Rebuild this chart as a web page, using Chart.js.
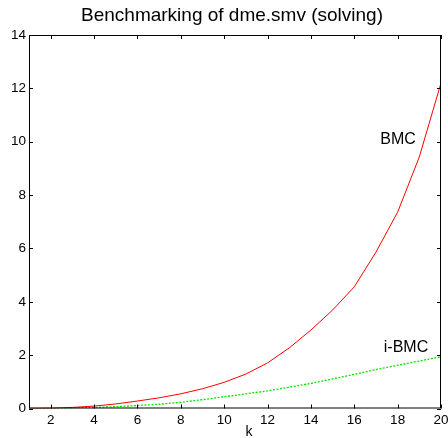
<!DOCTYPE html>
<html>
<head>
<meta charset="utf-8">
<title>dme.smv solving</title>
<script src="https://cdn.jsdelivr.net/npm/chart.js@4/dist/chart.umd.min.js"></script>
<style>
	body { margin: 0; background: #fff; }
	canvas { display: block; }
</style>
</head>
<body>
<canvas id="benchChart" width="448" height="438"></canvas>
<script>
var k = [1, 2, 3, 4, 5, 6, 7, 8, 9, 10, 11, 12, 13, 14, 15, 16, 17, 18, 19, 20];
var bmc = [0, 0.01, 0.04, 0.09, 0.17, 0.28, 0.4, 0.55, 0.74, 0.98, 1.29, 1.71, 2.27, 2.94, 3.69, 4.56, 5.86, 7.36, 9.43, 12.2];
var ibmc = [0, 0.005, 0.02, 0.04, 0.07, 0.11, 0.16, 0.23, 0.33, 0.44, 0.55, 0.66, 0.8, 0.94, 1.11, 1.28, 1.46, 1.62, 1.78, 1.94];
var xTicks = [2, 4, 6, 8, 10, 12, 14, 16, 18, 20];
var yTicks = [0, 2, 4, 6, 8, 10, 12, 14];

var font = "'Liberation Sans', Arial, Helvetica, sans-serif";

function points(ys) {
	var out = [];
	for (var i in k) {
		out.push({x: k[i], y: ys[i]});
	}
	return out;
}

// box around the plot with small inward ticks on every side, plus all the text
var boxPlugin = {
	id: 'box',
	afterDraw: function(chart) {
		var ctx = chart.ctx;
		var a = chart.chartArea;
		var xs = chart.scales.x;
		var ys = chart.scales.y;
		var len = 4;
		ctx.save();
		ctx.strokeStyle = '#000';
		ctx.lineWidth = 1;
		ctx.strokeRect(a.left + 0.5, a.top + 0.5, a.right - a.left - 1, a.bottom - a.top - 1);
		ctx.beginPath();
		xTicks.forEach(function(v) {
			var px = Math.round(xs.getPixelForValue(v)) + 0.5;
			ctx.moveTo(px, a.bottom); ctx.lineTo(px, a.bottom - len);
			ctx.moveTo(px, a.top); ctx.lineTo(px, a.top + len);
		});
		yTicks.forEach(function(v) {
			var py = Math.round(ys.getPixelForValue(v)) + 0.5;
			ctx.moveTo(a.left, py); ctx.lineTo(a.left + len, py);
			ctx.moveTo(a.right, py); ctx.lineTo(a.right - len, py);
		});
		ctx.stroke();

		ctx.fillStyle = '#000';
		ctx.textBaseline = 'middle';
		ctx.font = '13.5px ' + font;
		ctx.textAlign = 'right';
		yTicks.forEach(function(v) {
			ctx.fillText(String(v), 26, ys.getPixelForValue(v));
		});
		ctx.textAlign = 'center';
		xTicks.forEach(function(v) {
			ctx.fillText(String(v), xs.getPixelForValue(v), 420);
		});

		ctx.font = '19px ' + font;
		ctx.fillText('Benchmarking of dme.smv (solving)', 232, 16);
		ctx.font = '14px ' + font;
		ctx.fillText('k', 249, 432);
		ctx.font = '16px ' + font;
		ctx.fillText('BMC', 398, 140);
		ctx.fillText('i-BMC', 406, 348);
		ctx.restore();
	}
};

var ctx = document.getElementById('benchChart');

var chart = new Chart(ctx, {
	type: 'line',
	data: {
		datasets: [{
			label: 'BMC',
			data: points(bmc),
			borderColor: '#ff0000',
			borderWidth: 1,
			pointRadius: 0,
			tension: 0
		}, {
			label: 'i-BMC',
			data: points(ibmc),
			borderColor: '#00e600',
			borderWidth: 1.3,
			borderDash: [2, 1.5],
			pointRadius: 0,
			tension: 0
		}]
	},
	options: {
		responsive: false,
		animation: false,
		layout: {
			padding: {top: 35, right: 7, bottom: 0, left: 0}
		},
		plugins: {
			legend: {display: false},
			title: {display: false},
			tooltip: {enabled: false}
		},
		scales: {
			x: {
				type: 'linear',
				min: 1,
				max: 20,
				grid: {display: false},
				border: {display: false},
				afterBuildTicks: function(scale) {
					scale.ticks = xTicks.map(function(v) { return {value: v}; });
				},
				afterFit: function(scale) {
					scale.height = 29.5;
					scale.paddingLeft = 0;
					scale.paddingRight = 0;
				},
				ticks: {display: false}
			},
			y: {
				min: 0,
				max: 14,
				grid: {display: false},
				border: {display: false},
				afterBuildTicks: function(scale) {
					scale.ticks = yTicks.map(function(v) { return {value: v}; });
				},
				afterFit: function(scale) {
					scale.width = 29;
					scale.paddingTop = 0;
					scale.paddingBottom = 0;
				},
				ticks: {display: false}
			}
		}
	},
	plugins: [boxPlugin]
});
</script>
</body>
</html>
